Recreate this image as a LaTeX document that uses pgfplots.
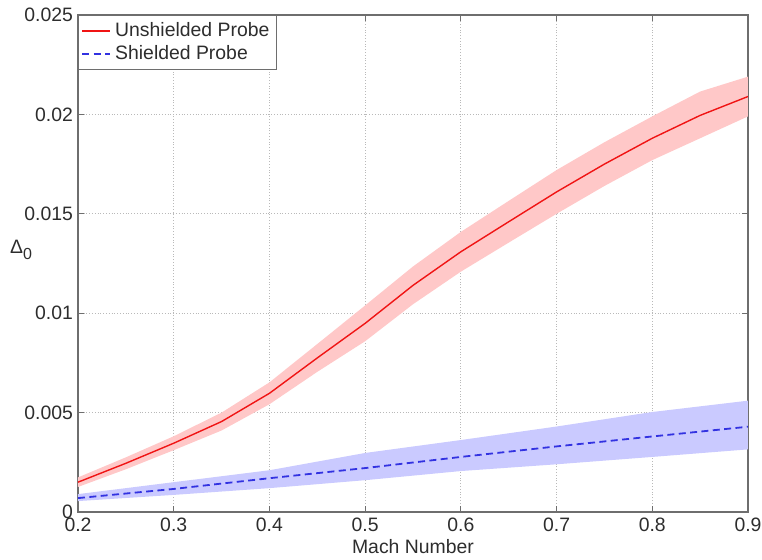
\documentclass[border=0pt]{standalone}
\usepackage{fontspec}
\setmainfont{Liberation Sans}
\usepackage{pgfplots}
\usepackage{pgfplotstable}
\pgfplotsset{compat=1.18}
\usepgfplotslibrary{fillbetween}

\pgfplotstableread{
x y lo hi
0.20 0.00150 0.00126 0.00174
0.25 0.00245 0.00215 0.00275
0.30 0.00346 0.00311 0.00381
0.35 0.00455 0.00410 0.00500
0.40 0.00597 0.00542 0.00652
0.45 0.00775 0.00705 0.00845
0.50 0.00949 0.00859 0.01039
0.55 0.01140 0.01045 0.01235
0.60 0.01309 0.01209 0.01409
0.65 0.01460 0.01355 0.01565
0.70 0.01610 0.01500 0.01720
0.75 0.01750 0.01640 0.01860
0.80 0.01880 0.01770 0.01990
0.85 0.01995 0.01880 0.02115
0.90 0.02090 0.01990 0.02190
}\unshielded

\pgfplotstableread{
x y lo hi
0.20 0.00070 0.00055 0.00090
0.30 0.00116 0.00086 0.00150
0.40 0.00170 0.00120 0.00210
0.50 0.00221 0.00160 0.00297
0.60 0.00277 0.00206 0.00362
0.70 0.00330 0.00240 0.00430
0.80 0.00380 0.00277 0.00503
0.90 0.00429 0.00315 0.00560
}\shielded

\definecolor{redband}{RGB}{255,200,200}
\definecolor{blueband}{RGB}{202,202,255}
\definecolor{axgray}{RGB}{110,110,110}
\definecolor{lineblue}{RGB}{50,50,225}
\definecolor{linered}{RGB}{240,20,20}
\definecolor{labtext}{RGB}{45,45,45}

\begin{document}
\begin{tikzpicture}
\begin{axis}[
  scale only axis,
  width=335pt, height=248.5pt,
  xmin=0.2, xmax=0.9, ymin=0, ymax=0.025,
  xtick={0.2,0.3,...,0.9},
  ytick={0,0.005,0.01,0.015,0.02,0.025},
  scaled y ticks=false, scaled x ticks=false,
  xticklabels={0.2,0.3,0.4,0.5,0.6,0.7,0.8,0.9},
  yticklabels={0,0.005,0.01,0.015,0.02,0.025},
  tick align=inside, tick pos=both,
  major tick length=3pt,
  axis line style={axgray, line width=0.6pt},
  every tick/.style={axgray, line width=0.5pt},
  grid=major,
  major grid style={densely dotted, gray!55, line width=0.4pt},
  tick label style={font=\fontsize{9.7}{11}\selectfont, text=labtext},
  xticklabel style={yshift=0.5pt},
  yticklabel style={xshift=1pt},
  xlabel={Mach Number},
  xlabel style={font=\fontsize{9.7}{11}\selectfont, text=labtext, yshift=3pt},
  ylabel={Δ\raisebox{-3pt}{\fontsize{8}{9}\selectfont 0}},
  ylabel style={rotate=-90, at={(rel axis cs:-0.085,0.527)}, anchor=center, font=\fontsize{9.7}{11}\selectfont, text=labtext},
  legend style={at={(0,1)}, anchor=north west, draw=axgray, font=\fontsize{9.7}{11}\selectfont\color{labtext}, inner sep=1.5pt, row sep=-1pt, cells={anchor=west}},
  axis on top=false,
]
\addlegendimage{legend image code/.code={\draw[draw=linered, line width=0.8pt] (0pt,0pt) -- (14pt,0pt);}}
\addlegendentry{Unshielded Probe}
\addlegendimage{legend image code/.code={\draw[draw=lineblue, line width=0.9pt, dash pattern=on 3.5pt off 2.2pt] (0pt,0pt) -- (14pt,0pt);}}
\addlegendentry{Shielded Probe}
\addplot[name path=ru, draw=none, forget plot] table[x=x, y=hi] {\unshielded};
\addplot[name path=rl, draw=none, forget plot] table[x=x, y=lo] {\unshielded};
\addplot[redband, forget plot] fill between[of=ru and rl];
\addplot[name path=bu, draw=none, forget plot] table[x=x, y=hi] {\shielded};
\addplot[name path=bl, draw=none, forget plot] table[x=x, y=lo] {\shielded};
\addplot[blueband, forget plot] fill between[of=bu and bl];
\addplot[linered, line width=0.7pt, forget plot] table[x=x, y=y] {\unshielded};
\addplot[lineblue, line width=0.9pt, dash pattern=on 3.5pt off 2.2pt, forget plot] table[x=x, y=y] {\shielded};
\end{axis}
\pgfresetboundingbox
\path (current axis.south west) ++(-39pt,-23.5pt) rectangle ++(381pt,279.5pt);
\end{tikzpicture}
\end{document}
